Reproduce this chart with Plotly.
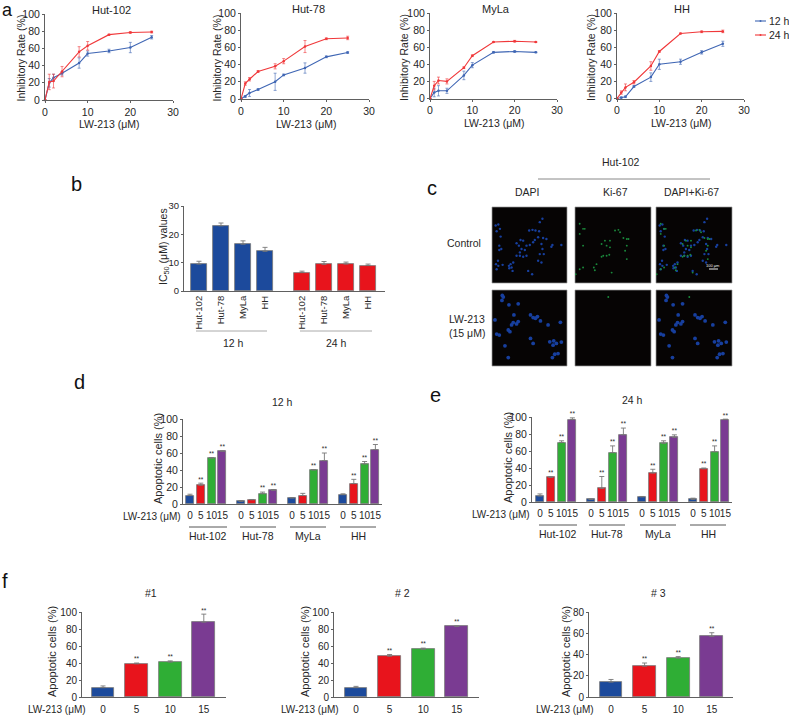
import plotly.graph_objects as go

W, H = 789, 715
INK = "#262626"; AXC = "#606060"; FONT = "Liberation Sans"
BLUE = "#1c4a9c"; RED = "#e8141c"; GREEN = "#2fae35"; PURPLE = "#7a3b92"
LBLUE = "#3f66b4"; LRED = "#f0383a"
DOSE_COLORS = [BLUE, RED, GREEN, PURPLE]

# ---- panel a
conc = [0, 1, 2, 4, 8, 10, 15, 20, 25]
cells = ["Hut-102", "Hut-78", "MyLa", "HH"]
a12 = [[0, 20, 26, 31, 43, 54, 57, 61, 73],
       [0, 3, 7, 11, 20, 28, 36, 49, 54],
       [0, 7, 9, 9, 27, 39, 54, 55, 54],
       [0, 1, 2, 14, 25, 40, 43, 54, 64]]
a12e = [[0, 5, 4, 2, 6, 3, 2, 6, 2],
        [0, 1, 4, 1, 10, 1, 6, 1, 1],
        [0, 5, 6, 3, 5, 3, 1, 1, 0.5],
        [0, 1, 1, 1, 5, 6, 3, 2, 3]]
a24 = [[0, 21, 22, 33, 56, 63, 76, 78.5, 79],
       [0, 18, 23, 32, 38, 44, 61, 70, 71],
       [0, 15, 21, 20, 36, 50, 66, 67, 66],
       [0, 7, 13, 19, 38, 55, 76, 78, 78.5]]
a24e = [[0, 9, 8, 6, 6, 5, 0.5, 1, 1],
        [0, 2, 2, 1, 3, 3, 7, 1, 2],
        [0, 5, 4, 3, 1, 1, 0.5, 1, 0.5],
        [0, 2, 4, 2, 5, 1, 0.5, 1, 1.5]]

# ---- panel b
b12 = [9.5, 23, 16.5, 14]; b12e = [1, 1, 1.2, 1.4]
b24 = [6.5, 9.4, 9.5, 9]; b24e = [0.5, 1, 0.7, 0.5]

# ---- panels d, e
doses = ["0", "5", "10", "15"]
d_vals = [[10, 22, 54, 62], [3, 5, 12, 16], [7, 10, 40, 51], [11, 24, 47, 64]]
d_errs = [[1.5, 2.5, 0.5, 0.5], [1, 0.3, 2, 1], [0.5, 2.5, 0.5, 9], [1, 5, 3, 6]]
d_star = [[0, 1, 1, 1], [0, 0, 1, 1], [0, 0, 1, 1], [0, 1, 1, 1]]
e_vals = [[7, 29, 70, 97], [3, 16, 58, 79], [6, 34, 69, 76], [3, 39, 59, 97]]
e_errs = [[2.5, 0.5, 2, 2], [0.5, 14, 8, 8], [0.5, 4.5, 3, 3], [1.5, 1, 7, 0.5]]
e_star = [[0, 1, 1, 1], [0, 1, 1, 1], [0, 1, 1, 1], [0, 1, 1, 1]]

# ---- panel f
f_vals = [[11, 39, 41, 88], [11, 48, 56, 83], [14, 29, 36.5, 57]]
f_errs = [[2, 1, 1.5, 9.5], [1.5, 2, 1.5, 0.5], [2.5, 3, 1.5, 3.5]]

# ---- panel c: cell positions read inside each 226x226 image (3x crop units)
ctrl_dapi = [(19,52),(11,55),(24,65),(14,72),(26,88),(22,115),(28,125),(22,128),(18,160),(12,170),(19,175),(32,172),
             (14,185),(51,175),(56,170),(64,165),(52,182),(62,190),(59,180),(109,190),(121,200),(74,108),(86,98),(81,115),
             (89,125),(99,128),(104,115),(114,113),(124,105),(129,98),(112,70),(122,68),(131,70),(142,72),(152,35),(144,45),
             (139,90),(154,92),(164,95),(149,110),(152,125),(144,140),(139,160),(149,165),(74,145),(84,145),(94,148),(104,145),
             (84,135),(182,113),(179,118),(156,140),(94,100),(209,113)]
ctrl_ki = [(14,50),(24,65),(14,80),(29,65),(129,68),(119,70),(134,75),(144,92),(159,95),(104,100),(89,100),(79,110),
           (94,115),(104,120),(154,115),(149,130),(154,155),(84,145),(94,145),(102,142),(79,148),(64,170),(56,180),(59,188),
           (24,180),(14,185),(2,200),(109,195),(154,95),(24,115)]
lw_dapi = [(31,16),(34,21),(30,31),(51,44),(79,41),(66,74),(9,89),(64,97),(74,101),(59,104),(79,94),(116,74),(124,82),
           (131,84),(137,79),(146,92),(169,104),(206,96),(14,131),(22,134),(49,119),(54,124),(39,166),(49,201),(116,144),
           (124,159),(174,154),(186,151),(194,159),(209,155),(184,164),(199,189),(189,191),(182,201)]
lw_ki = [(99,21)]
c_rows = ["Control", "LW-213"]
c_cols = ["DAPI", "Ki-67", "DAPI+Ki-67"]

fig = go.Figure()
layout = {}
axn = [0]
annos = []
shapes = []


def px(x): return x / W
def py(y): return 1 - y / H


def text(x, y, s, size=10, angle=0, anchor="center", color=INK):
    annos.append(dict(x=px(x), y=py(y), xref="paper", yref="paper", text=s, showarrow=False, textangle=angle,
                      xanchor=anchor, yanchor="middle", font=dict(size=size, color=color, family=FONT),
                      borderpad=0, borderwidth=0))


def hline(x0, x1, y, color="#666666", width=1):
    shapes.append(dict(type="line", xref="paper", yref="paper", x0=px(x0), x1=px(x1), y0=py(y), y1=py(y),
                       line=dict(color=color, width=width)))


def axes(x0, x1, ytop, ybot, xr, yr, xkw=None, ykw=None):
    axn[0] += 1
    n = axn[0]
    s = "" if n == 1 else str(n)
    xa = dict(domain=[px(x0), px(x1)], range=xr, anchor="y" + s, showline=True, linecolor=AXC, linewidth=1,
              showgrid=False, zeroline=False, color=INK, tickcolor=AXC, ticklen=2, ticks="outside", fixedrange=True,
              tickangle=0, tickfont=dict(family=FONT, color=INK))
    ya = dict(domain=[py(ybot), py(ytop)], range=yr, anchor="x" + s, showline=True, linecolor=AXC, linewidth=1,
              showgrid=False, zeroline=False, color=INK, tickcolor=AXC, ticklen=2, ticks="outside", fixedrange=True,
              tickfont=dict(family=FONT, color=INK))
    xa.update(xkw or {}); ya.update(ykw or {})
    layout["xaxis" + s] = xa
    layout["yaxis" + s] = ya
    return "x" + s, "y" + s


def bars(xa, ya, xs, vals, errs, colors, width, stars=None, star_size=7):
    fig.add_trace(go.Bar(x=xs, y=vals, width=width, xaxis=xa, yaxis=ya, showlegend=False,
                         marker=dict(color=colors, line=dict(color="#777777", width=0.8)),
                         error_y=dict(type="data", symmetric=False, array=errs, arrayminus=[0] * len(errs),
                                      color="#777777", thickness=0.9, width=2.5)))
    if stars:
        sx = [x for x, f in zip(xs, stars) if f]
        sy = [v + e for v, e, f in zip(vals, errs, stars) if f]
        fig.add_trace(go.Scatter(x=sx, y=sy, mode="text", text=["**"] * len(sx), textposition="top center",
                                 textfont=dict(size=star_size, color=INK, family=FONT), xaxis=xa, yaxis=ya,
                                 showlegend=False, hoverinfo="skip", cliponaxis=False))


# ---- a
boxes_a = [(45, 173, 14, 100), (241, 369, 13, 99), (430, 557, 13, 98.5), (617, 744, 13, 98.5)]
title_a = [(111, 10), (308, 9), (496, 9), (682, 9)]
xlab_a = [(109, 124), (306, 124), (494, 123), (681, 123)]
ylab_a = [20.5, 216.5, 404, 591]
for i, c in enumerate(cells):
    x0, x1, t, b = boxes_a[i]
    xa, ya = axes(x0, x1, t, b, [0, 30], [0, 100],
                  dict(tickvals=[0, 10, 20, 30], tickfont=dict(size=10.5, family=FONT, color=INK)),
                  dict(tickvals=[0, 20, 40, 60, 80, 100], tickfont=dict(size=10.5, family=FONT, color=INK)))
    for vals, errs, col in ((a12[i], a12e[i], LBLUE), (a24[i], a24e[i], LRED)):
        fig.add_trace(go.Scatter(x=conc, y=vals, mode="lines+markers", xaxis=xa, yaxis=ya, showlegend=False,
                                 line=dict(color=col, width=1.1), marker=dict(color=col, size=2.5),
                                 error_y=dict(type="data", array=errs, color=col, thickness=0.6, width=1.5),
                                 cliponaxis=False))
    text(*title_a[i], c, 11)
    text(*xlab_a[i], "LW-213 (μM)", 10.5)
    text(ylab_a[i], 58, "Inhibitory Rate (%)", 10.5, -90)

# legend
for label, col, y in (("12 h", LBLUE, 21), ("24 h", LRED, 35)):
    hline(755, 766, y, col, 1.1)
    shapes.append(dict(type="circle", xref="paper", yref="paper", x0=px(759.5), x1=px(761.5), y0=py(y + 1), y1=py(y - 1),
                       fillcolor=col, line=dict(width=0)))
    text(769, y, label, 10.5, anchor="left")

# ---- b
xa, ya = axes(184, 385, 206, 291, [-0.68, 8.45], [0, 30],
              dict(tickvals=[0, 1, 2, 3, 4.68, 5.68, 6.68, 7.68], ticktext=cells + cells, tickangle=-90,
                   tickfont=dict(size=9.5, family=FONT, color=INK), ticks=""),
              dict(tickvals=[0, 10, 20, 30], tickfont=dict(size=9.5, family=FONT, color=INK)))
bars(xa, ya, [0, 1, 2, 3], b12, b12e, [BLUE] * 4, 0.71)
bars(xa, ya, [4.68, 5.68, 6.68, 7.68], b24, b24e, [RED] * 4, 0.71)
text(164, 247, "IC<sub>50</sub> (μM) values", 10.5, -90)
hline(196, 267, 331, "#aaaaaa"); hline(300, 372, 331, "#aaaaaa")
text(233, 343, "12 h", 10.5); text(336, 343, "24 h", 10.5)

# ---- c
text(621, 162, "Hut-102", 10.5)
hline(538, 710, 179, "#888888")
col_x = [(492, 567), (575, 651), (656, 732)]
row_y = [(207, 283), (290, 366)]
for cname, cx in zip(c_cols, (527, 615, 691)):
    text(cx, 192, cname, 10.5)
text(464, 243, "Control", 10.5)
text(467, 319, "LW-213", 10.5); text(467, 333, "(15 μM)", 10.5)
panels = [[(ctrl_dapi, None), (None, ctrl_ki), (ctrl_dapi, ctrl_ki)],
          [(lw_dapi, None), (None, lw_ki), (lw_dapi, lw_ki)]]
msize = [2.4, 3.8]
for r, (t, b) in enumerate(row_y):
    for c, (l, rr) in enumerate(col_x):
        xa, ya = axes(l, rr, t, b, [0, 226], [226, 0],
                      dict(visible=False), dict(visible=False))
        shapes.append(dict(type="rect", xref="paper", yref="paper", x0=px(l), x1=px(rr), y0=py(b), y1=py(t),
                           fillcolor="#060404", line=dict(color="#999999", width=0.7), layer="below"))
        dapi, ki = panels[r][c]
        if dapi:
            fig.add_trace(go.Scatter(x=[p[0] for p in dapi], y=[p[1] for p in dapi], mode="markers", xaxis=xa, yaxis=ya,
                                     showlegend=False, marker=dict(color="#173f9e", size=msize[r])))
        if ki:
            fig.add_trace(go.Scatter(x=[p[0] for p in ki], y=[p[1] for p in ki], mode="markers", xaxis=xa, yaxis=ya,
                                     showlegend=False, marker=dict(color="#1a8a3c", size=1.9)))
        if r == 0 and c == 2:
            hline(709, 718, 269, "#eeeeee", 1)
            text(713, 265, "100 μm", 4, color="#eeeeee")


# ---- d, e
def group_panel(x0, x1, t, b, first, slot, step, vals, errs, stars, title, tpos, ylab_x, lw_pos, stand,
                line_y, lab_y, spans, centers, ymid):
    rng = [-(first - x0) / slot, (x1 - first) / slot]
    xa, ya = axes(x0, x1, t, b, rng, [0, 100], None, dict(tickvals=[0, 20, 40, 60, 80, 100],
                                                          tickfont=dict(size=10.5, family=FONT, color=INK)))
    ticks = []
    for g in range(4):
        gx = [g * step / slot + k for k in range(4)]
        ticks += gx
        bars(xa, ya, gx, vals[g], errs[g], DOSE_COLORS, 0.74, stars[g], 6.5)
    layout[xa.replace("x", "xaxis")].update(tickvals=ticks, ticktext=doses * 4, ticks="", tickangle=0,
                                            tickfont=dict(size=10, family=FONT, color=INK), ticklabelstandoff=stand)
    text(*tpos, title, 10.5)
    text(ylab_x, ymid, "Apoptotic cells (%)", 11, -90)
    text(*lw_pos, "LW-213 (μM)", 10)
    for (a, z), name, cx in zip(spans, cells, centers):
        hline(a, z, line_y, "#555555")
        text(cx, lab_y, name, 10.5)


group_panel(183, 382, 419, 504, 190, 10.8, 51, d_vals, d_errs, d_star, "12 h", (282, 402), 158, (152, 516), 2,
            527, 536, [(189, 227), (240, 276), (290, 326), (340, 376)], (208, 258, 308, 358), 459)
group_panel(532, 732, 417, 502, 540, 10.8, 51, e_vals, e_errs, e_star, "24 h", (632, 400), 508, (501, 514), 2,
            525, 534, [(539, 577), (589, 625), (640, 676), (690, 726)], (558, 607, 658, 708), 458)

# ---- f
f_box = [(82, 226, 103), (334, 479, 356), (589, 733, 611)]
f_title = [("#1", 151), ("# 2", 403), ("# 3", 658)]
f_ylab = [52, 305, 566]
f_lw = [57, 310, 565]
f_top = [100, 100, 80]
for i in range(3):
    l, rr, first = f_box[i]
    slot = 33.6
    ymax = f_top[i]
    xa, ya = axes(l, rr, 612, 697, [-(first - l) / slot, (rr - first) / slot], [0, ymax],
                  dict(tickvals=[0, 1, 2, 3], ticktext=doses, ticks="", tickfont=dict(size=10, family=FONT, color=INK),
                       ticklabelstandoff=3),
                  dict(tickvals=list(range(0, ymax + 1, 20)), tickfont=dict(size=10, family=FONT, color=INK)))
    bars(xa, ya, [0, 1, 2, 3], f_vals[i], f_errs[i], DOSE_COLORS, 0.68, [0, 1, 1, 1], 6.5)
    text(f_title[i][1], 593, f_title[i][0], 10.5)
    text(f_ylab[i], 652, "Apoptotic cells (%)", 11, -90)
    text(f_lw[i], 709, "LW-213 (μM)", 10)

# panel letters
for s, x, y, size in (("a", 7, 10, 18), ("b", 76, 184, 20), ("c", 432, 188, 20), ("d", 79, 382, 20),
                      ("e", 435, 395, 20), ("f", 5, 581, 20)):
    text(x, y, s, size, color="#111111")

fig.update_layout(width=W, height=H, margin=dict(l=0, r=0, t=0, b=0, pad=0, autoexpand=False),
                  paper_bgcolor="white", plot_bgcolor="rgba(0,0,0,0)", bargap=0, barmode="overlay", showlegend=False,
                  font=dict(family=FONT, color=INK), annotations=annos, shapes=shapes, **layout)
fig.write_html("out.html", post_script="document.body.style.margin='0';", config={"displayModeBar": False})
